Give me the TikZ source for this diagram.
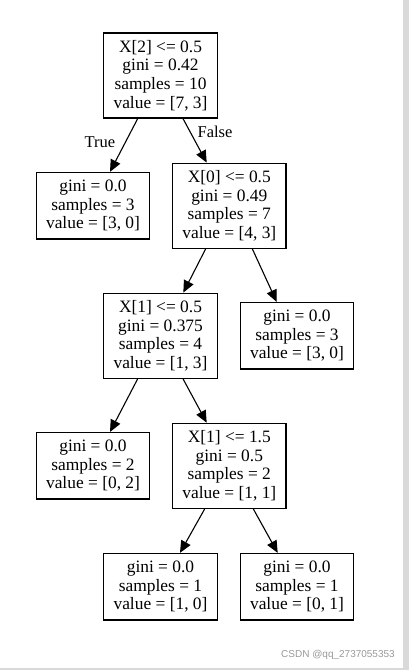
\documentclass[tikz,border=0pt]{standalone}
\usepackage{fontspec}
\setmainfont{Liberation Serif}
\newfontfamily\wmfont{Liberation Sans}
\usetikzlibrary{arrows.meta,calc}
\begin{document}
\begin{tikzpicture}[x=1pt,y=-1pt,
  treebox/.style={draw,line width=1.2pt,align=center,inner sep=0pt,minimum width=113.5pt,
    font=\fontsize{17.4}{18.7}\selectfont},
  splitbox/.style={treebox,minimum height=85pt},
  leafbox/.style={treebox,minimum height=66.5pt},
  edge/.style={line width=1.1pt,-{Triangle[length=12pt,width=10.5pt]}},
  elabel/.style={font=\fontsize{16.5}{18}\selectfont,inner sep=0pt}]
\useasboundingbox (0,0) rectangle (409,670);
\fill[white] (0,0) rectangle (409,670);
\fill[black!15] (403,0) rectangle (409,670);
\fill[black!15] (0,668) rectangle (409,670);
\node[splitbox] (root) at (160.5,75.5) {X[2] <= 0.5\\gini = 0.42\\samples = 10\\value = [7, 3]};
\node[leafbox] (la) at (93,205.7) {gini = 0.0\\samples = 3\\value = [3, 0]};
\node[splitbox] (n0) at (229.3,205.7) {X[0] <= 0.5\\gini = 0.49\\samples = 7\\value = [4, 3]};
\node[splitbox] (n1) at (160.5,335.7) {X[1] <= 0.5\\gini = 0.375\\samples = 4\\value = [1, 3]};
\node[leafbox] (lb) at (297,335.8) {gini = 0.0\\samples = 3\\value = [3, 0]};
\node[leafbox] (lc) at (93,465.8) {gini = 0.0\\samples = 2\\value = [0, 2]};
\node[splitbox] (n2) at (229.3,465.8) {X[1] <= 1.5\\gini = 0.5\\samples = 2\\value = [1, 1]};
\node[leafbox] (ld) at (160.5,586.7) {gini = 0.0\\samples = 1\\value = [1, 0]};
\node[leafbox] (le) at (297,586.7) {gini = 0.0\\samples = 1\\value = [0, 1]};
\draw[edge] ($(root.south)+(-22.8,0)$) -- ($(la.north)+(17,0)$);
\draw[edge] ($(root.south)+(22.5,0)$) -- ($(n0.north)+(-22.6,0)$);
\draw[edge] ($(n0.south)+(-23.6,0)$) -- ($(n1.north)+(22.8,0)$);
\draw[edge] ($(n0.south)+(23,0)$) -- ($(lb.north)+(-20.3,0)$);
\draw[edge] ($(n1.south)+(-22.8,0)$) -- ($(lc.north)+(17,0)$);
\draw[edge] ($(n1.south)+(22.5,0)$) -- ($(n2.north)+(-22.6,0)$);
\draw[edge] ($(n2.south)+(-24.6,0)$) -- ($(ld.north)+(19.5,0)$);
\draw[edge] ($(n2.south)+(24,0)$) -- ($(le.north)+(-19.3,0)$);
\node[elabel] (tl) at (100,141.7) {True};
\node[elabel] (fl) at (215,131.7) {False};
\node[font=\wmfont\fontsize{10}{12}\selectfont,text=black!40,inner sep=0pt,anchor=west] (wm) at (281,655) {CSDN @qq\_2737055353};
\end{tikzpicture}
\end{document}
